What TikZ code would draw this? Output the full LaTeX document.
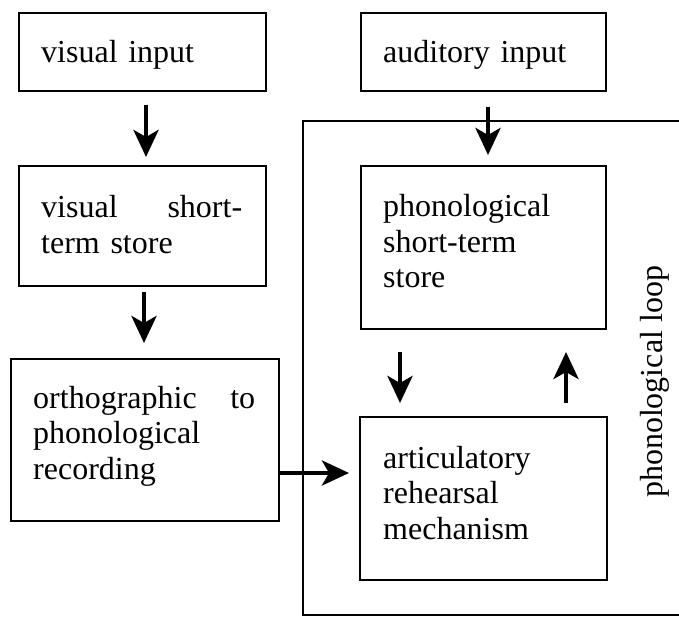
\documentclass[tikz,border=0pt]{standalone}
\usepackage{fontspec}
\setmainfont{Liberation Serif}
\usetikzlibrary{arrows.meta}
\begin{document}
\begin{tikzpicture}[x=1pt,y=-1pt,
  box/.style={draw, line width=2pt, anchor=north west, inner sep=0pt},
  boxtext/.style={anchor=base west, inner sep=0pt, align=left, font=\fontsize{32}{35.5}\selectfont},
  arr/.style={line width=4.5pt, -{Stealth[length=27pt,width=25pt,inset=7pt]}},
  frame/.style={line width=2pt}]
\useasboundingbox (0,0) rectangle (679,617);
% boxes
\node[box, minimum width=247pt, minimum height=78pt]  (vi) at (18,12) {};
\node[box, minimum width=247pt, minimum height=120pt] (vs) at (18,165) {};
\node[box, minimum width=268pt, minimum height=162pt] (or) at (10,358) {};
\node[box, minimum width=245pt, minimum height=78pt]  (ai) at (360,12) {};
\node[box, minimum width=245pt, minimum height=163pt] (ps) at (360,165) {};
\node[box, minimum width=247pt, minimum height=163pt] (ar) at (359,416) {};
% texts
\node[boxtext, text width=201pt] (vit) at ([shift={(23pt,-51pt)}]vi.north west) {visual input};
\node[boxtext, text width=201pt] (vst) at ([shift={(23pt,-53pt)}]vs.north west) {visual \hfill short-\\term store};
\node[boxtext, text width=222pt] (ort) at ([shift={(23pt,-50pt)}]or.north west) {orthographic \hfill to\\phonological\\recording};
\node[boxtext, text width=199pt] (ait) at ([shift={(23pt,-51pt)}]ai.north west) {auditory input};
\node[boxtext, text width=199pt] (pst) at ([shift={(23pt,-52pt)}]ps.north west) {phonological\\short-term\\store};
\node[boxtext, text width=199pt] (art) at ([shift={(24pt,-52pt)}]ar.north west) {articulatory\\rehearsal\\mechanism};
% phonological loop frame
\coordinate (loopNE) at (690,121);
\coordinate (loopNW) at (303,121);
\coordinate (loopSW) at (303,615);
\coordinate (loopSE) at (690,615);
\draw[frame] (loopNE) -- (loopNW) -- (loopSW) -- (loopSE);
\node[rotate=90, anchor=base, inner sep=0pt, font=\fontsize{32}{35.5}\selectfont] (looplabel) at (662,382) {phonological loop};
% arrows
\draw[arr, shorten <=13pt, shorten >=8pt] ([xshift=3.5pt]vi.south) -- ([xshift=3.5pt]vs.north);
\draw[arr, shorten <=5pt, shorten >=15pt] ([xshift=1.5pt]vs.south) -- ([xshift=1.5pt]vs.south |- or.north);
\draw[arr, shorten <=15pt, shorten >=10pt] ([xshift=4.5pt]ai.south) -- ([xshift=4.5pt]ps.north);
\draw[arr, shorten <=22pt, shorten >=13pt] ([xshift=40pt]ps.south west) -- ([xshift=40pt]ps.south west |- ar.north);
\draw[arr, shorten <=13pt, shorten >=22pt] ([xshift=207pt]ar.north west) -- ([xshift=207pt]ar.north west |- ps.south);
\draw[arr, shorten >=10pt] ([yshift=-33pt]or.east) -- ([yshift=-33pt]or.east -| ar.west);
\end{tikzpicture}
\end{document}
